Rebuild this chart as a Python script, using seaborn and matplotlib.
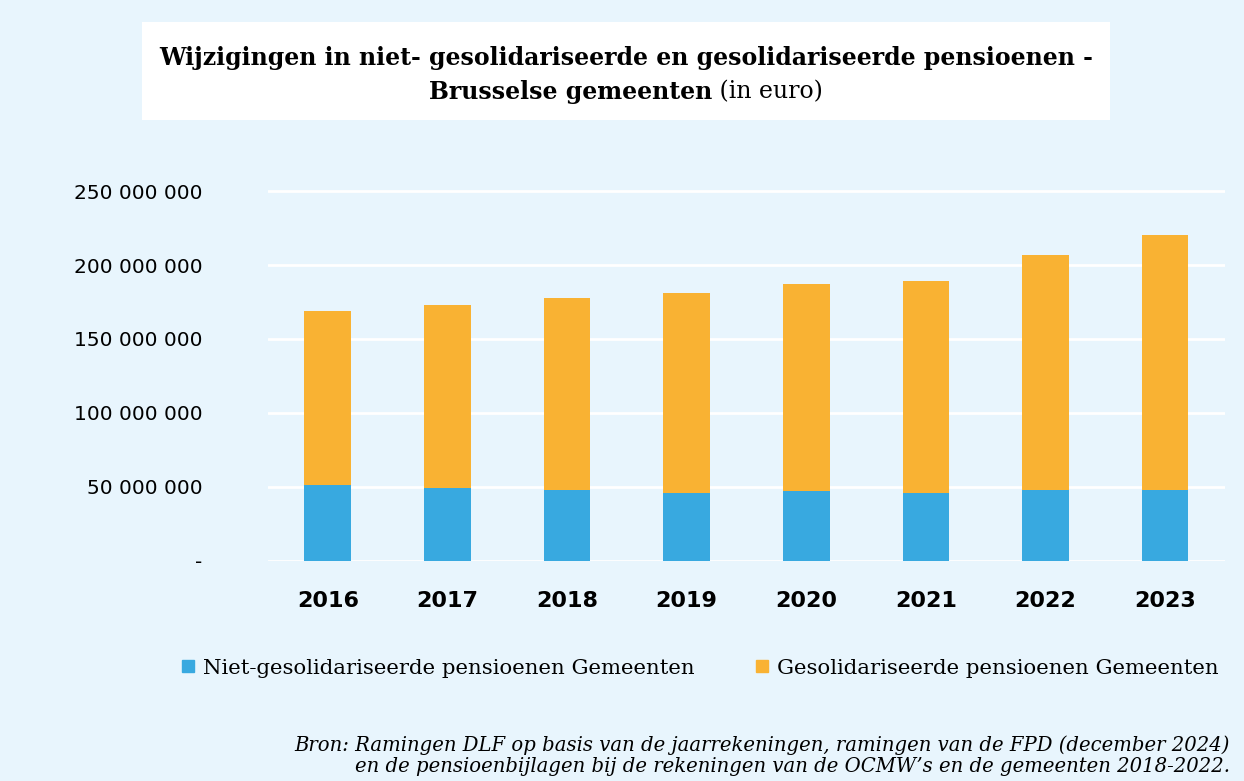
import pandas as pd
import matplotlib.pyplot as plt
import seaborn as sns
from matplotlib.patches import Rectangle
from matplotlib.lines import Line2D

# Data (euro)
years = ["2016", "2017", "2018", "2019", "2020", "2021", "2022", "2023"]
niet_gesol = [51.2e6, 49.2e6, 48.0e6, 46.0e6, 47.0e6, 46.0e6, 48.0e6, 48.0e6]
gesol = [117.5e6, 123.6e6, 130.0e6, 135.1e6, 140.2e6, 143.2e6, 158.8e6, 172.2e6]
ytick_vals = [0, 50e6, 100e6, 150e6, 200e6, 250e6]
ytick_labels = ["-", "50 000 000", "100 000 000", "150 000 000", "200 000 000", "250 000 000"]

blue = "#38A9E0"
orange = "#F9B233"
bg = "#E8F5FD"

df = pd.DataFrame({"jaar": years, "niet": niet_gesol, "gesol": gesol})
df["totaal"] = df["niet"] + df["gesol"]

sns.set_style("white")
plt.rcParams["font.family"] = ["DejaVu Sans"]
plt.rcParams["text.color"] = "black"
plt.rcParams["xtick.color"] = "black"
plt.rcParams["ytick.color"] = "black"

fig = plt.figure(figsize=(12.44, 7.81), dpi=100)
fig.patch.set_facecolor(bg)
ax = fig.add_axes([0.2154, 0.2821, 0.7693, 0.4826])
ax.set_facecolor(bg)

# Stacked bars: total in orange, lower part in blue on top
sns.barplot(data=df, x="jaar", y="totaal", color=orange, width=0.39,
            saturation=1, linewidth=0, ax=ax, zorder=3)
sns.barplot(data=df, x="jaar", y="niet", color=blue, width=0.39,
            saturation=1, linewidth=0, ax=ax, zorder=4)

ax.set_xlim(-0.5, 7.5)
ax.set_ylim(0, 255e6)
ax.set_yticks(ytick_vals)
ax.set_yticklabels(ytick_labels, fontsize=14.5)
ax.tick_params(axis="y", length=0, pad=47)
ax.tick_params(axis="x", length=0, pad=22)
for lbl in ax.get_xticklabels():
    lbl.set_fontweight("bold")
    lbl.set_fontsize(16)
ax.set_xlabel("")
ax.set_ylabel("")
ax.grid(axis="y", color="white", linewidth=2, zorder=0)
ax.set_axisbelow(True)
sns.despine(ax=ax, left=True, bottom=True)

# Title box
fig.patches.append(Rectangle((142 / 1244, 1 - 120 / 781), (1110 - 142) / 1244, 98 / 781,
                             transform=fig.transFigure, facecolor="white",
                             edgecolor="none", zorder=0))
fig.text(626 / 1244, 1 - 58 / 781,
         "Wijzigingen in niet- gesolidariseerde en gesolidariseerde pensioenen -",
         ha="center", va="center", fontsize=17, fontweight="bold",
         family="DejaVu Serif")
renderer = fig.canvas.get_renderer()
t1 = fig.text(0, 1 - 92 / 781, "Brusselse gemeenten", ha="left", va="center",
              fontsize=17, fontweight="bold", family="DejaVu Serif")
t2 = fig.text(0, 1 - 92 / 781, " (in euro)", ha="left", va="center",
              fontsize=17, family="DejaVu Serif")
w1 = t1.get_window_extent(renderer).width
w2 = t2.get_window_extent(renderer).width
x0 = 626 - (w1 + w2) / 2
t1.set_x(x0 / 1244)
t2.set_x((x0 + w1) / 1244)

# Legend
handles = [Line2D([], [], marker="s", linestyle="", color=blue, markersize=9),
           Line2D([], [], marker="s", linestyle="", color=orange, markersize=9)]
fig.legend(handles, ["Niet-gesolidariseerde pensioenen Gemeenten",
                     "Gesolidariseerde pensioenen Gemeenten"],
           loc="center", bbox_to_anchor=(697 / 1244, 1 - 668 / 781), ncol=2,
           frameon=False, handletextpad=0.1, columnspacing=2.6, handlelength=1.2,
           prop={"family": "DejaVu Serif", "size": 15.3})

# Source
fig.text(1230 / 1244, 1 - 745 / 781,
         "Bron: Ramingen DLF op basis van de jaarrekeningen, ramingen van de FPD (december 2024)",
         ha="right", va="center", fontsize=14.1, style="italic", family="DejaVu Serif")
fig.text(1230 / 1244, 1 - 767 / 781,
         "en de pensioenbijlagen bij de rekeningen van de OCMW\u2019s en de gemeenten 2018-2022.",
         ha="right", va="center", fontsize=14.1, style="italic", family="DejaVu Serif")

fig.savefig("out.png", dpi=100, facecolor=bg)
